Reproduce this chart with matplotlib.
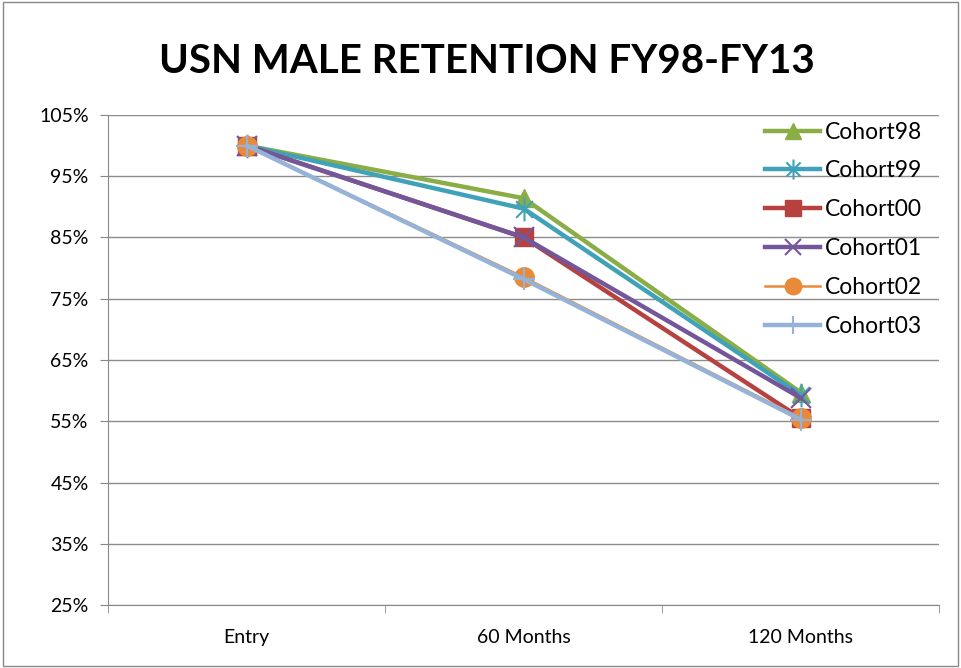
import matplotlib
matplotlib.use("Agg")
import matplotlib.pyplot as plt
from matplotlib.patches import Rectangle
from matplotlib.path import Path

categories = ["Entry", "60 Months", "120 Months"]
series_names = ["Cohort98", "Cohort99", "Cohort00", "Cohort01", "Cohort02", "Cohort03"]
cohort98 = [100.0, 91.4, 59.7]
cohort99 = [100.0, 89.7, 59.3]
cohort00 = [100.0, 85.0, 55.5]
cohort01 = [100.0, 85.0, 58.8]
cohort02 = [100.0, 78.5, 55.5]
cohort03 = [100.0, 78.2, 55.3]
yticks = [25, 35, 45, 55, 65, 75, 85, 95, 105]

# Excel-style asterisk marker: an x plus a vertical stroke
d = 0.7071
star_path = Path(
    [(-d, -d), (d, d), (-d, d), (d, -d), (0, -1), (0, 1)],
    [Path.MOVETO, Path.LINETO, Path.MOVETO, Path.LINETO, Path.MOVETO, Path.LINETO],
)

values = [cohort98, cohort99, cohort00, cohort01, cohort02, cohort03]
colors = ["#8AAE45", "#3FA2B8", "#B7413E", "#73579A", "#E88A3A", "#95B3D7"]
markers = ["^", star_path, "s", "x", "o", "+"]
msizes = [13, 17, 13, 14, 14, 16]
lws = [3.2, 3.2, 3.2, 3.2, 1.8, 3.2]

plt.rcParams['font.family'] = ['Lato', 'DejaVu Sans']

fig = plt.figure(figsize=(9.61, 6.68), dpi=100)
ax = fig.add_axes([0.1125, 0.094, 0.865, 0.734])

x = list(range(len(categories)))
for name, vals, c, m, ms, lw in zip(series_names, values, colors, markers, msizes, lws):
    mew = 1.5 if not isinstance(m, str) or m in ("x", "+") else 1
    ax.plot(x, vals, color=c, lw=lw, marker=m, markersize=ms, markeredgewidth=mew,
            markeredgecolor=c, markerfacecolor=c, label=name)

ax.set_xlim(-0.5, 2.5)
ax.set_ylim(25, 105)
ax.set_yticks(yticks)
ax.set_yticklabels([f"{t}%" for t in yticks], fontsize=14)
ax.set_xticks(x)
ax.set_xticklabels(categories, fontsize=14)
ax.set_xticks([-0.5, 0.5, 1.5, 2.5], minor=True)
ax.tick_params(axis='x', which='major', length=0, pad=17)
ax.tick_params(axis='x', which='minor', length=6, color="#888888")
ax.tick_params(axis='y', length=6, color="#888888", pad=8)
ax.grid(axis='y', color="#8c8c8c", lw=1)
ax.set_axisbelow(True)
for s in ["top", "right"]:
    ax.spines[s].set_visible(False)
for s in ["left", "bottom"]:
    ax.spines[s].set_color("#888888")

leg = ax.legend(loc="upper right", frameon=False, fontsize=16.5, handlelength=2.4,
                labelspacing=0.78, borderaxespad=0.0, handletextpad=0.2,
                bbox_to_anchor=(0.99, 1.005), markerscale=0.85)

fig.text(0.507, 0.908, "USN MALE RETENTION FY98-FY13", ha="center", va="center",
         fontsize=29, fontweight="bold")

fig.patches.append(Rectangle((0.003, 0.003), 0.994, 0.994, transform=fig.transFigure,
                             fill=False, edgecolor="#888888", lw=1))

fig.savefig("out.png", dpi=100)
